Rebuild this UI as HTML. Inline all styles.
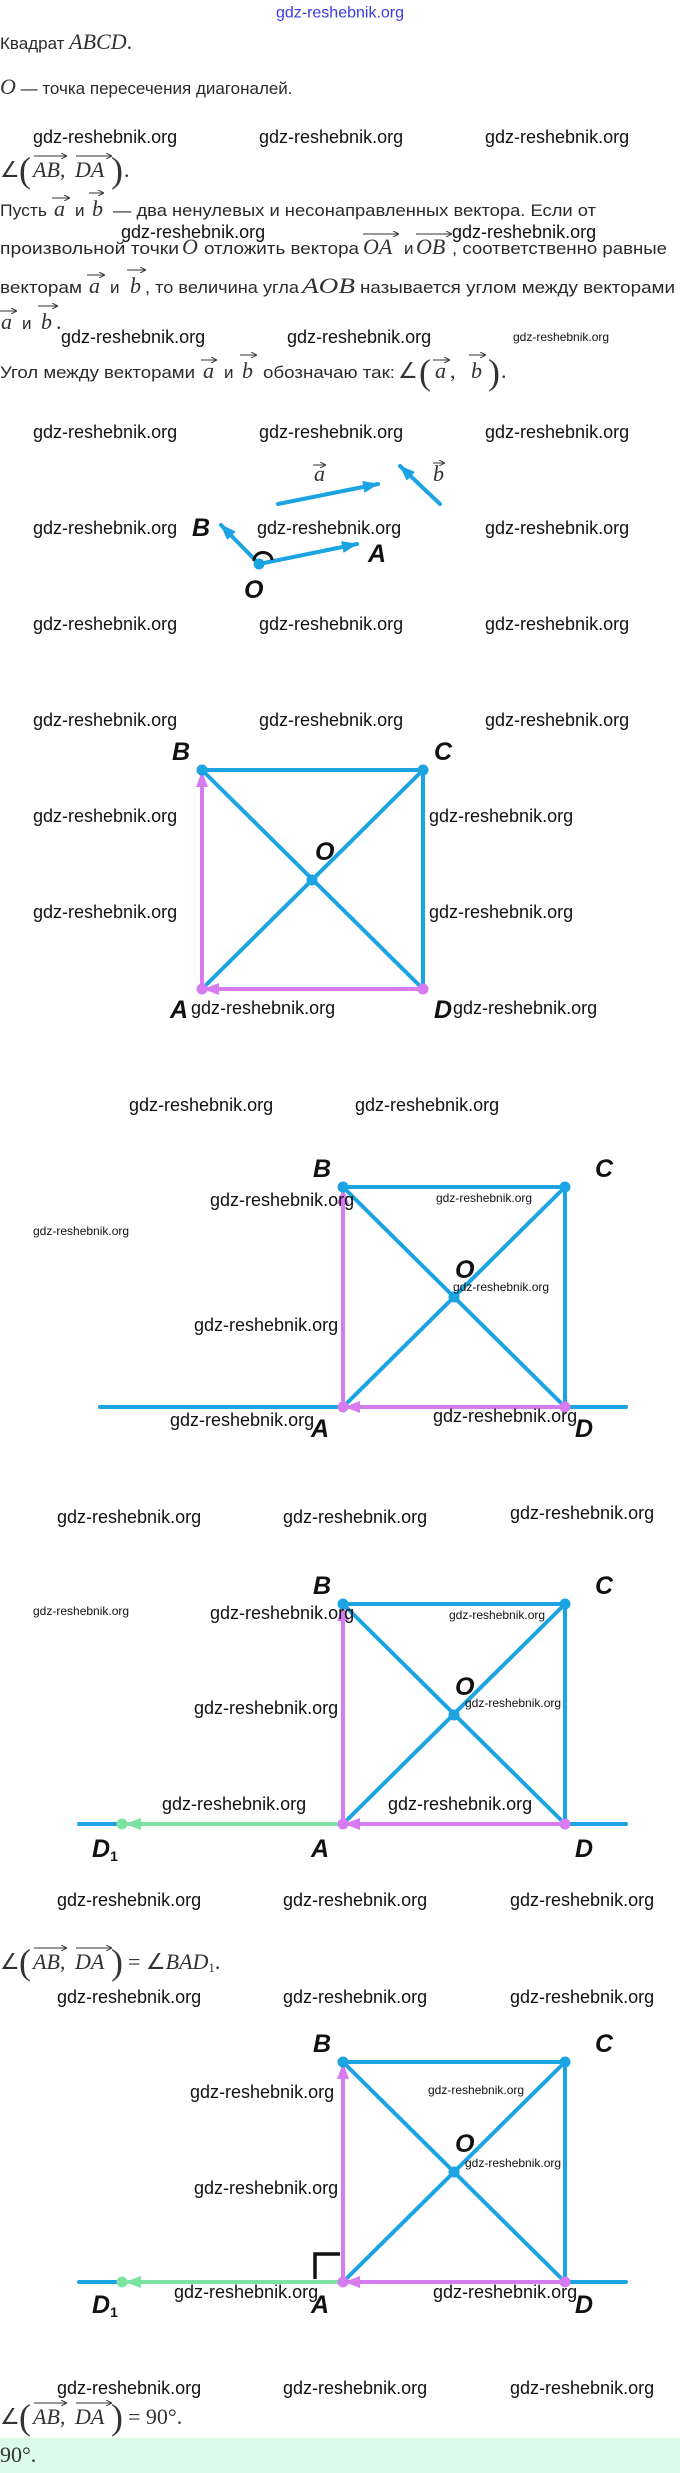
<!DOCTYPE html>
<html><head><meta charset="utf-8"><style>
html,body{margin:0;padding:0;background:#fff;}
svg{display:block;}
.t{font-family:"Liberation Sans",sans-serif;font-size:17px;fill:#2a2a2a;}
.m{font-family:"Liberation Serif",serif;font-style:italic;font-size:22px;fill:#333;}
.mr{font-family:"Liberation Serif",serif;font-size:22px;fill:#333;}
.p{font-family:"Liberation Serif",serif;font-size:36px;fill:#333;}
.w{font-family:"Liberation Sans",sans-serif;font-size:18px;fill:#111;}
.ws{font-family:"Liberation Sans",sans-serif;font-size:12px;fill:#111;}
.L{font-family:"Liberation Sans",sans-serif;font-weight:bold;font-style:italic;font-size:25px;fill:#111;}
</style></head><body>
<svg width="680" height="2473" viewBox="0 0 680 2473" xmlns="http://www.w3.org/2000/svg">
<defs>
<marker id="mb" markerUnits="userSpaceOnUse" markerWidth="16" markerHeight="12" refX="15" refY="6" orient="auto"><path d="M0,0 L16,6 L0,12 z" fill="#1ba3e2"/></marker>
<marker id="mp" markerUnits="userSpaceOnUse" markerWidth="16" markerHeight="12" refX="15" refY="6" orient="auto"><path d="M0,0 L16,6 L0,12 z" fill="#d67cf0"/></marker>
<marker id="mg" markerUnits="userSpaceOnUse" markerWidth="16" markerHeight="12" refX="15" refY="6" orient="auto"><path d="M0,0 L16,6 L0,12 z" fill="#7de3a2"/></marker>
<marker id="va" markerUnits="userSpaceOnUse" markerWidth="6" markerHeight="6" refX="5" refY="3" orient="auto"><path d="M0,0 L6,3 L0,6" fill="none" stroke="#333" stroke-width="1"/></marker>
</defs>

<text x="340" y="13" text-anchor="middle" dominant-baseline="central" font-family="Liberation Sans,sans-serif" font-size="16" fill="#3b3be0">gdz-reshebnik.org</text>

<text x="0" y="49" class="t">Квадрат <tspan class="m">ABCD</tspan><tspan class="mr">.</tspan></text>
<text x="0" y="94" class="m">O<tspan class="t" font-style="normal"> — точка пересечения диагоналей.</tspan></text>

<g class="w" dominant-baseline="central">
<text x="33" y="137">gdz-reshebnik.org</text><text x="259" y="137">gdz-reshebnik.org</text><text x="485" y="137">gdz-reshebnik.org</text>
</g>

<g>
<text x="0" y="177" class="mr">∠</text>
<text x="19" y="182" class="p">(</text>
<text x="33" y="177" class="m">AB,</text>
<text x="75" y="177" class="m">DA</text>
<text x="111" y="182" class="p">)</text>
<text x="124" y="177" class="mr">.</text>
<line x1="34" y1="156" x2="66" y2="156" stroke="#333" stroke-width="1" marker-end="url(#va)"/>
<line x1="76" y1="156" x2="111" y2="156" stroke="#333" stroke-width="1" marker-end="url(#va)"/>
</g>

<g>
<text x="0" y="216" class="t" textLength="47" lengthAdjust="spacingAndGlyphs">Пусть</text>
<text x="54" y="216" class="m">a</text><line x1="52" y1="198" x2="69" y2="198" stroke="#333" marker-end="url(#va)"/>
<text x="75" y="216" class="t">и</text>
<text x="92" y="216" class="m">b</text><line x1="89" y1="193" x2="103" y2="193" stroke="#333" marker-end="url(#va)"/>
<text x="113" y="216" class="t" textLength="483" lengthAdjust="spacingAndGlyphs">— два ненулевых и несонаправленных вектора. Если от</text>
</g>
<text x="121" y="232" class="w" dominant-baseline="central">gdz-reshebnik.org</text>
<text x="452" y="232" class="w" dominant-baseline="central">gdz-reshebnik.org</text>
<g>
<text x="0" y="254" class="t" textLength="179" lengthAdjust="spacingAndGlyphs">произвольной точки</text>
<text x="182" y="254" class="m">O</text>
<text x="204" y="254" class="t" textLength="155" lengthAdjust="spacingAndGlyphs">отложить вектора</text>
<text x="363" y="254" class="m">OA</text><line x1="363" y1="234" x2="398" y2="234" stroke="#333" marker-end="url(#va)"/>
<text x="404" y="254" class="t">и</text>
<text x="416" y="254" class="m">OB</text><line x1="416" y1="234" x2="451" y2="234" stroke="#333" marker-end="url(#va)"/>
<text x="452" y="254" class="t" textLength="215" lengthAdjust="spacingAndGlyphs">, соответственно равные</text>
</g>
<g>
<text x="0" y="293" class="t" textLength="82" lengthAdjust="spacingAndGlyphs">векторам</text>
<text x="89" y="293" class="m">a</text><line x1="87" y1="275" x2="104" y2="275" stroke="#333" marker-end="url(#va)"/>
<text x="110" y="293" class="t">и</text>
<text x="130" y="293" class="m">b</text><line x1="127" y1="270" x2="145" y2="270" stroke="#333" marker-end="url(#va)"/>
<text x="145" y="293" class="t" textLength="154" lengthAdjust="spacingAndGlyphs">, то величина угла</text>
<text x="302" y="293" class="m" textLength="53" lengthAdjust="spacingAndGlyphs">AOB</text>
<text x="360" y="293" class="t" textLength="315" lengthAdjust="spacingAndGlyphs">называется углом между векторами</text>
</g>
<g>
<text x="1" y="329" class="m">a</text><line x1="0" y1="311" x2="16" y2="311" stroke="#333" marker-end="url(#va)"/>
<text x="22" y="329" class="t">и</text>
<text x="41" y="329" class="m">b</text><line x1="38" y1="306" x2="57" y2="306" stroke="#333" marker-end="url(#va)"/>
<text x="56" y="329" class="mr">.</text>
</g>
<text x="61" y="337" class="w" dominant-baseline="central">gdz-reshebnik.org</text>
<text x="287" y="337" class="w" dominant-baseline="central">gdz-reshebnik.org</text>
<text x="513" y="337" class="ws" dominant-baseline="central">gdz-reshebnik.org</text>
<g>
<text x="0" y="378" class="t" textLength="195" lengthAdjust="spacingAndGlyphs">Угол между векторами</text>
<text x="203" y="378" class="m">a</text><line x1="201" y1="360" x2="216" y2="360" stroke="#333" marker-end="url(#va)"/>
<text x="224" y="378" class="t">и</text>
<text x="242" y="378" class="m">b</text><line x1="240" y1="355" x2="256" y2="355" stroke="#333" marker-end="url(#va)"/>
<text x="263" y="378" class="t" textLength="132" lengthAdjust="spacingAndGlyphs">обозначаю так:</text>
<text x="398" y="378" class="mr">∠</text>
<text x="419" y="384" class="p">(</text>
<text x="435" y="378" class="m">a</text><line x1="433" y1="360" x2="449" y2="360" stroke="#333" marker-end="url(#va)"/>
<text x="450" y="378" class="mr">,</text>
<text x="471" y="378" class="m">b</text><line x1="469" y1="355" x2="485" y2="355" stroke="#333" marker-end="url(#va)"/>
<text x="488" y="384" class="p">)</text>
<text x="501" y="378" class="mr">.</text>
</g>

<g class="w" dominant-baseline="central">
<text x="33" y="432">gdz-reshebnik.org</text><text x="259" y="432">gdz-reshebnik.org</text><text x="485" y="432">gdz-reshebnik.org</text>
<text x="33" y="528">gdz-reshebnik.org</text><text x="485" y="528">gdz-reshebnik.org</text>
<text x="33" y="624">gdz-reshebnik.org</text><text x="259" y="624">gdz-reshebnik.org</text><text x="485" y="624">gdz-reshebnik.org</text>
<text x="33" y="720">gdz-reshebnik.org</text><text x="259" y="720">gdz-reshebnik.org</text><text x="485" y="720">gdz-reshebnik.org</text>
</g>

<g stroke="#1ba3e2" stroke-width="4" stroke-linecap="round">
<line x1="278" y1="504" x2="378" y2="484" marker-end="url(#mb)"/>
<line x1="440" y1="504" x2="400" y2="466" marker-end="url(#mb)"/>
<line x1="259" y1="564" x2="357" y2="544" marker-end="url(#mb)"/>
<line x1="259" y1="564" x2="221" y2="525" marker-end="url(#mb)"/>
</g>
<path d="M254,561 A9,8 0 0 1 272,560" fill="none" stroke="#111" stroke-width="3"/>
<circle cx="259" cy="564" r="5.5" fill="#1ba3e2"/>
<text x="314" y="481" class="mr" font-style="italic">a</text><line x1="313" y1="465" x2="325" y2="465" stroke="#333" stroke-width="1" marker-end="url(#va)"/>
<text x="433" y="481" class="mr" font-style="italic">b</text><line x1="433" y1="463" x2="444" y2="463" stroke="#333" stroke-width="1" marker-end="url(#va)"/>
<text x="192" y="536" class="L">B</text>
<text x="368" y="562" class="L">A</text>
<text x="244" y="598" class="L">O</text>
<text x="257" y="528" class="w" dominant-baseline="central">gdz-reshebnik.org</text>

<!-- Square 1 -->
<g stroke-linecap="round">
<g stroke="#1ba3e2" stroke-width="4">
<line x1="202" y1="770" x2="423" y2="770"/><line x1="423" y1="770" x2="423" y2="989"/>
<line x1="202" y1="770" x2="423" y2="989"/><line x1="423" y1="770" x2="202" y2="989"/>
</g>
<line x1="202" y1="989" x2="202" y2="772" stroke="#d67cf0" stroke-width="4" marker-end="url(#mp)"/>
<line x1="423" y1="989" x2="204" y2="989" stroke="#d67cf0" stroke-width="4" marker-end="url(#mp)"/>
<circle cx="202" cy="770" r="5.5" fill="#1ba3e2"/><circle cx="423" cy="770" r="5.5" fill="#1ba3e2"/><circle cx="312" cy="880" r="5.5" fill="#1ba3e2"/>
<circle cx="202" cy="989" r="5.5" fill="#d67cf0"/><circle cx="423" cy="989" r="5.5" fill="#d67cf0"/>
</g>
<text x="172" y="760" class="L">B</text><text x="434" y="760" class="L">C</text><text x="315" y="860" class="L">O</text>
<text x="170" y="1018" class="L">A</text><text x="434" y="1018" class="L">D</text>
<g class="w" dominant-baseline="central">
<text x="33" y="816">gdz-reshebnik.org</text><text x="429" y="816">gdz-reshebnik.org</text>
<text x="33" y="912">gdz-reshebnik.org</text><text x="429" y="912">gdz-reshebnik.org</text>
<text x="191" y="1008">gdz-reshebnik.org</text><text x="453" y="1008">gdz-reshebnik.org</text>
<text x="129" y="1105">gdz-reshebnik.org</text><text x="355" y="1105">gdz-reshebnik.org</text>
</g>

<!-- Square 2 -->
<g stroke-linecap="round">
<line x1="100" y1="1407" x2="626" y2="1407" stroke="#1ba3e2" stroke-width="4"/>
<g stroke="#1ba3e2" stroke-width="4">
<line x1="343" y1="1187" x2="565" y2="1187"/><line x1="565" y1="1187" x2="565" y2="1407"/>
<line x1="343" y1="1187" x2="565" y2="1407"/><line x1="565" y1="1187" x2="343" y2="1407"/>
</g>
<line x1="343" y1="1407" x2="343" y2="1189" stroke="#d67cf0" stroke-width="4" marker-end="url(#mp)"/>
<line x1="565" y1="1407" x2="345" y2="1407" stroke="#d67cf0" stroke-width="4" marker-end="url(#mp)"/>
<circle cx="343" cy="1187" r="5.5" fill="#1ba3e2"/><circle cx="565" cy="1187" r="5.5" fill="#1ba3e2"/><circle cx="454" cy="1297" r="5.5" fill="#1ba3e2"/>
<circle cx="343" cy="1407" r="5.5" fill="#d67cf0"/><circle cx="565" cy="1407" r="5.5" fill="#d67cf0"/>
</g>
<text x="313" y="1177" class="L">B</text><text x="595" y="1177" class="L">C</text><text x="455" y="1278" class="L">O</text>
<text x="311" y="1437" class="L">A</text><text x="575" y="1437" class="L">D</text>
<g class="w" dominant-baseline="central">
<text x="210" y="1200">gdz-reshebnik.org</text><text x="194" y="1325">gdz-reshebnik.org</text>
<text x="170" y="1420">gdz-reshebnik.org</text><text x="433" y="1416">gdz-reshebnik.org</text>
<text x="57" y="1517">gdz-reshebnik.org</text><text x="283" y="1517">gdz-reshebnik.org</text><text x="510" y="1513">gdz-reshebnik.org</text>
</g>
<g class="ws" dominant-baseline="central">
<text x="436" y="1198">gdz-reshebnik.org</text><text x="33" y="1231">gdz-reshebnik.org</text><text x="453" y="1287">gdz-reshebnik.org</text>
</g>

<!-- Square 3 -->
<g stroke-linecap="round">
<line x1="79" y1="1824" x2="626" y2="1824" stroke="#1ba3e2" stroke-width="4"/>
<line x1="343" y1="1824" x2="126" y2="1824" stroke="#7de3a2" stroke-width="4" marker-end="url(#mg)"/>
<g stroke="#1ba3e2" stroke-width="4">
<line x1="343" y1="1604" x2="565" y2="1604"/><line x1="565" y1="1604" x2="565" y2="1824"/>
<line x1="343" y1="1604" x2="565" y2="1824"/><line x1="565" y1="1604" x2="343" y2="1824"/>
</g>
<line x1="343" y1="1824" x2="343" y2="1606" stroke="#d67cf0" stroke-width="4" marker-end="url(#mp)"/>
<line x1="565" y1="1824" x2="345" y2="1824" stroke="#d67cf0" stroke-width="4" marker-end="url(#mp)"/>
<circle cx="343" cy="1604" r="5.5" fill="#1ba3e2"/><circle cx="565" cy="1604" r="5.5" fill="#1ba3e2"/><circle cx="454" cy="1715" r="5.5" fill="#1ba3e2"/>
<circle cx="343" cy="1824" r="5.5" fill="#d67cf0"/><circle cx="565" cy="1824" r="5.5" fill="#d67cf0"/><circle cx="122" cy="1824" r="5.5" fill="#7de3a2"/>
</g>
<text x="313" y="1594" class="L">B</text><text x="595" y="1594" class="L">C</text><text x="455" y="1695" class="L">O</text>
<text x="92" y="1857" class="L">D<tspan font-size="14" font-style="normal" dy="4">1</tspan></text>
<text x="311" y="1857" class="L">A</text><text x="575" y="1857" class="L">D</text>
<g class="w" dominant-baseline="central">
<text x="210" y="1613">gdz-reshebnik.org</text><text x="194" y="1708">gdz-reshebnik.org</text>
<text x="162" y="1804">gdz-reshebnik.org</text><text x="388" y="1804">gdz-reshebnik.org</text>
<text x="57" y="1900">gdz-reshebnik.org</text><text x="283" y="1900">gdz-reshebnik.org</text><text x="510" y="1900">gdz-reshebnik.org</text>
<text x="57" y="1997">gdz-reshebnik.org</text><text x="283" y="1997">gdz-reshebnik.org</text><text x="510" y="1997">gdz-reshebnik.org</text>
</g>
<g class="ws" dominant-baseline="central">
<text x="33" y="1611">gdz-reshebnik.org</text><text x="449" y="1615">gdz-reshebnik.org</text><text x="465" y="1703">gdz-reshebnik.org</text>
</g>

<g>
<text x="0" y="1969" class="mr">∠</text>
<text x="19" y="1974" class="p">(</text>
<text x="33" y="1969" class="m">AB,</text><text x="75" y="1969" class="m">DA</text>
<text x="111" y="1974" class="p">)</text>
<text x="128" y="1969" class="mr">= ∠<tspan class="m">BAD</tspan><tspan font-size="13" dy="3">1</tspan><tspan dy="-3">.</tspan></text>
<line x1="34" y1="1948" x2="66" y2="1948" stroke="#333" stroke-width="1" marker-end="url(#va)"/>
<line x1="76" y1="1948" x2="111" y2="1948" stroke="#333" stroke-width="1" marker-end="url(#va)"/>
</g>

<!-- Square 4 -->
<g stroke-linecap="round">
<line x1="79" y1="2282" x2="626" y2="2282" stroke="#1ba3e2" stroke-width="4"/>
<line x1="343" y1="2282" x2="126" y2="2282" stroke="#7de3a2" stroke-width="4" marker-end="url(#mg)"/>
<g stroke="#1ba3e2" stroke-width="4">
<line x1="343" y1="2062" x2="565" y2="2062"/><line x1="565" y1="2062" x2="565" y2="2282"/>
<line x1="343" y1="2062" x2="565" y2="2282"/><line x1="565" y1="2062" x2="343" y2="2282"/>
</g>
<line x1="343" y1="2282" x2="343" y2="2064" stroke="#d67cf0" stroke-width="4" marker-end="url(#mp)"/>
<line x1="565" y1="2282" x2="345" y2="2282" stroke="#d67cf0" stroke-width="4" marker-end="url(#mp)"/>
<circle cx="343" cy="2062" r="5.5" fill="#1ba3e2"/><circle cx="565" cy="2062" r="5.5" fill="#1ba3e2"/><circle cx="454" cy="2172" r="5.5" fill="#1ba3e2"/>
<circle cx="343" cy="2282" r="5.5" fill="#d67cf0"/><circle cx="565" cy="2282" r="5.5" fill="#d67cf0"/><circle cx="122" cy="2282" r="5.5" fill="#7de3a2"/>
</g>
<path d="M315,2279 L315,2254 L340,2254" fill="none" stroke="#111" stroke-width="3.5"/>
<text x="313" y="2052" class="L">B</text><text x="595" y="2052" class="L">C</text><text x="455" y="2152" class="L">O</text>
<text x="92" y="2313" class="L">D<tspan font-size="14" font-style="normal" dy="4">1</tspan></text>
<text x="311" y="2313" class="L">A</text><text x="575" y="2313" class="L">D</text>
<g class="w" dominant-baseline="central">
<text x="190" y="2092">gdz-reshebnik.org</text><text x="194" y="2188">gdz-reshebnik.org</text>
<text x="174" y="2292">gdz-reshebnik.org</text><text x="433" y="2292">gdz-reshebnik.org</text>
<text x="57" y="2388">gdz-reshebnik.org</text><text x="283" y="2388">gdz-reshebnik.org</text><text x="510" y="2388">gdz-reshebnik.org</text>
</g>
<g class="ws" dominant-baseline="central">
<text x="428" y="2090">gdz-reshebnik.org</text><text x="465" y="2163">gdz-reshebnik.org</text>
</g>

<g>
<text x="0" y="2424" class="mr">∠</text>
<text x="19" y="2429" class="p">(</text>
<text x="33" y="2424" class="m">AB,</text><text x="75" y="2424" class="m">DA</text>
<text x="111" y="2429" class="p">)</text>
<text x="128" y="2424" class="mr">= 90°.</text>
<line x1="34" y1="2403" x2="66" y2="2403" stroke="#333" stroke-width="1" marker-end="url(#va)"/>
<line x1="76" y1="2403" x2="111" y2="2403" stroke="#333" stroke-width="1" marker-end="url(#va)"/>
</g>
<rect x="0" y="2438" width="680" height="35" fill="#dcfce9"/>
<text x="0" y="2462" class="mr">90°.</text>
</svg>
</body></html>
